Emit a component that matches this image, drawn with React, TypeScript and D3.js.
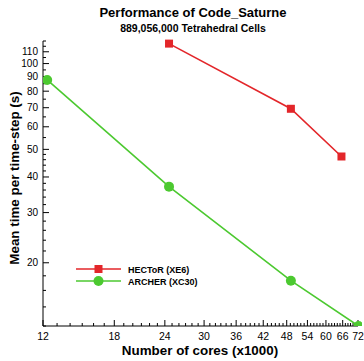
import { useEffect, useRef } from 'react';
import * as d3 from 'd3';

// cores (x1000) and mean time per time-step (s)
const hectorCores = [24.576, 49.152, 65.536];
const hectorTime = [117.5, 69.4, 47.2];
const archerCores = [12.288, 24.576, 49.152, 72.192];
const archerTime = [87.6, 37.0, 17.3, 12.0];

const xTicks = [12, 18, 24, 30, 36, 42, 48, 54, 60, 66, 72];
const yTicks = [20, 30, 40, 50, 60, 70, 80, 90, 100, 110];

const seriesNames = ['HECToR (XE6)', 'ARCHER (XC30)'];

export default function App() {
  const ref = useRef<SVGSVGElement>(null);
  const width = 364;
  const height = 361;

  useEffect(() => {
    if (!ref.current) return;
    const svg = d3.select(ref.current);
    svg.selectAll('*').remove();

    const font = 'Liberation Sans, Arial, sans-serif';
    const left = 43;
    const right = 358;
    const top = 41;
    const bottom = 326;

    const x = d3.scaleLog().domain([12, 72]).range([left, right]);
    const y = d3.scaleLog().domain([12, 120]).range([bottom, top]);

    svg.append('rect').attr('width', width).attr('height', height).attr('fill', '#fff');

    // title
    svg.append('text').attr('x', 193).attr('y', 17).attr('text-anchor', 'middle')
      .attr('font-family', font).attr('font-weight', 'bold').attr('font-size', 13)
      .text('Performance of Code_Saturne');
    svg.append('text').attr('x', 193).attr('y', 32).attr('text-anchor', 'middle')
      .attr('font-family', font).attr('font-weight', 'bold').attr('font-size', 10.5)
      .text('889,056,000 Tetrahedral Cells');

    const axes = svg.append('g').attr('stroke', '#000').attr('stroke-width', 1);
    axes.append('line').attr('x1', left).attr('x2', left).attr('y1', top).attr('y2', bottom);
    axes.append('line').attr('x1', left).attr('x2', right).attr('y1', bottom).attr('y2', bottom);

    // y minor ticks
    const yMinor = [...d3.range(12, 50, 2), ...d3.range(50, 121, 5)].filter((v) => !yTicks.includes(v));
    yMinor.forEach((v) => {
      axes.append('line').attr('x1', left).attr('x2', left + 3).attr('y1', y(v)).attr('y2', y(v));
    });
    yTicks.forEach((v) => {
      axes.append('line').attr('x1', left).attr('x2', left + 6).attr('y1', y(v)).attr('y2', y(v));
      svg.append('text').attr('x', left - 5).attr('y', y(v) + 3.5).attr('text-anchor', 'end')
        .attr('font-family', font).attr('font-size', 10).text(v);
    });

    // x minor ticks
    d3.range(13, 72).filter((v) => !xTicks.includes(v)).forEach((v) => {
      axes.append('line').attr('x1', x(v)).attr('x2', x(v)).attr('y1', bottom).attr('y2', bottom - 3);
    });
    xTicks.forEach((v) => {
      axes.append('line').attr('x1', x(v)).attr('x2', x(v)).attr('y1', bottom).attr('y2', bottom - 6);
      svg.append('text').attr('x', x(v)).attr('y', bottom + 14).attr('text-anchor', 'middle')
        .attr('font-family', font).attr('font-size', 10.5).text(v);
    });

    svg.append('text').attr('x', 200).attr('y', 355).attr('text-anchor', 'middle')
      .attr('font-family', font).attr('font-weight', 'bold').attr('font-size', 13.4)
      .text('Number of cores (x1000)');
    svg.append('text').attr('transform', 'translate(19,178) rotate(-90)')
      .attr('text-anchor', 'middle').attr('font-family', font).attr('font-weight', 'bold')
      .attr('font-size', 13.4).text('Mean time per time-step (s)');

    svg.append('defs').append('clipPath').attr('id', 'plot-clip')
      .append('rect').attr('x', left).attr('y', top - 10).attr('width', right - left + 4)
      .attr('height', bottom - top + 10);

    const plot = svg.append('g').attr('clip-path', 'url(#plot-clip)');
    const line = d3.line<[number, number]>().x((d) => x(d[0])).y((d) => y(d[1]));

    const hector = hectorCores.map((c, i) => [c, hectorTime[i]] as [number, number]);
    const archer = archerCores.map((c, i) => [c, archerTime[i]] as [number, number]);

    const red = '#e3262a';
    const green = '#4cc930';

    plot.append('path').datum(archer).attr('d', line).attr('fill', 'none')
      .attr('stroke', green).attr('stroke-width', 1.6);
    plot.selectAll('circle.a').data(archer).join('circle').attr('class', 'a')
      .attr('cx', (d) => x(d[0])).attr('cy', (d) => y(d[1])).attr('r', 5).attr('fill', green);

    plot.append('path').datum(hector).attr('d', line).attr('fill', 'none')
      .attr('stroke', red).attr('stroke-width', 1.6);
    plot.selectAll('rect.h').data(hector).join('rect').attr('class', 'h')
      .attr('x', (d) => x(d[0]) - 4).attr('y', (d) => y(d[1]) - 4)
      .attr('width', 8).attr('height', 8).attr('fill', red);

    // legend
    const lg = svg.append('g').attr('transform', 'translate(76,269)');
    [red, green].forEach((c, i) => {
      const row = lg.append('g').attr('transform', `translate(0,${i * 12})`);
      row.append('line').attr('x1', 0).attr('x2', 45).attr('stroke', c).attr('stroke-width', 1.6);
      if (i === 0) {
        row.append('rect').attr('x', 18.5).attr('y', -4).attr('width', 8).attr('height', 8).attr('fill', c);
      } else {
        row.append('circle').attr('cx', 22.5).attr('r', 5).attr('fill', c);
      }
      row.append('text').attr('x', 52).attr('y', 3.5).attr('font-family', font)
        .attr('font-weight', 'bold').attr('font-size', 9).text(seriesNames[i]);
    });
  }, []);

  return (
    <svg
      ref={ref}
      width={width}
      height={height}
      style={{ position: 'fixed', top: 0, left: 0, display: 'block' }}
    />
  );
}
